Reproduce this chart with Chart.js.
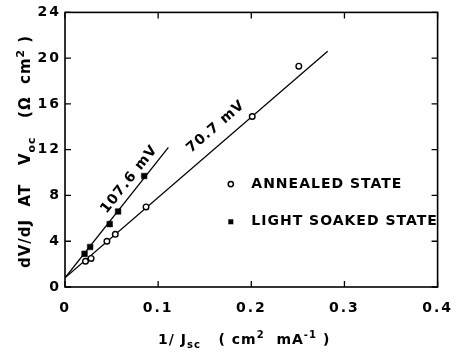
<!DOCTYPE html>
<html><head><meta charset="utf-8">
<script src="https://cdn.jsdelivr.net/npm/chart.js@4"></script>
<style>html,body{margin:0;padding:0;background:#fff}#w{width:463px;height:352px}</style>
</head><body><div id="w"><canvas id="c"></canvas></div>
<script>
const xTicks = [0, 0.1, 0.2, 0.3, 0.4];
const yTicks = [0, 4, 8, 12, 16, 20, 24];
const annealedX = [0.022, 0.028, 0.045, 0.054, 0.087, 0.201, 0.251];
const annealedY = [2.25, 2.5, 4.0, 4.6, 7.0, 14.9, 19.3];
const soakedX = [0.021, 0.027, 0.048, 0.057, 0.085];
const soakedY = [2.9, 3.5, 5.5, 6.6, 9.7];
const annealedFitX = [0, 0.282];
const annealedFitY = [0.8, 20.6];
const soakedFitX = [0, 0.111];
const soakedFitY = [0.8, 12.2];
const seriesNames = ['ANNEALED STATE', 'LIGHT SOAKED STATE'];
const slopeLabels = ['70.7 mV', '107.6 mV'];

const pts = (xs, ys) => xs.map((x, i) => ({x, y: ys[i]}));
const FONT = '"DejaVu Sans", sans-serif';

function rich(ctx, parts, x, y, size) {
  let cx = x;
  for (const p of parts) {
    let fs = size, dy = 0;
    if (p.s === 'sub') { fs = size * 0.72; dy = size * 0.3; }
    if (p.s === 'sup') { fs = size * 0.72; dy = -size * 0.42; }
    ctx.font = 'bold ' + fs + 'px ' + FONT;
    ctx.fillText(p.t, cx, y + dy);
    cx += ctx.measureText(p.t).width;
  }
}

const spacing = {
  id: 'spacing',
  beforeDraw(chart) { chart.ctx.letterSpacing = '2px'; }
};

const deco = {
  id: 'deco',
  afterDraw(chart) {
    const {ctx, chartArea: a, scales: {x, y}} = chart;
    ctx.save();
    ctx.letterSpacing = '0px';
    ctx.strokeStyle = '#000'; ctx.fillStyle = '#000';
    ctx.lineWidth = 1.6;
    ctx.strokeRect(a.left, a.top, a.right - a.left, a.bottom - a.top);
    ctx.lineWidth = 1.3;
    const L = 6;
    ctx.beginPath();
    xTicks.forEach(v => { const px = x.getPixelForValue(v);
      ctx.moveTo(px, a.bottom); ctx.lineTo(px, a.bottom - L);
      ctx.moveTo(px, a.top); ctx.lineTo(px, a.top + L); });
    yTicks.forEach(v => { const py = y.getPixelForValue(v);
      ctx.moveTo(a.left, py); ctx.lineTo(a.left + L, py);
      ctx.moveTo(a.right, py); ctx.lineTo(a.right - L, py); });
    ctx.stroke();

    // slope labels along lines
    ctx.letterSpacing = '1px';
    const lab = (fx, fy, tx, ty, text) => {
      const x0 = x.getPixelForValue(fx[0]), y0 = y.getPixelForValue(fy[0]);
      const x1 = x.getPixelForValue(fx[1]), y1 = y.getPixelForValue(fy[1]);
      const ang = Math.atan2(y1 - y0, x1 - x0);
      ctx.save();
      ctx.translate(x.getPixelForValue(tx), y.getPixelForValue(ty));
      ctx.rotate(ang);
      ctx.font = 'bold 14px ' + FONT;
      ctx.textAlign = 'center'; ctx.textBaseline = 'middle';
      ctx.fillText(text, 0, 0);
      ctx.restore();
    };
    lab(soakedFitX, soakedFitY, 0.069, 9.4, slopeLabels[1]);
    lab(annealedFitX, annealedFitY, 0.162, 14.0, slopeLabels[0]);

    // legend
    ctx.letterSpacing = '1px';
    ctx.font = 'bold 14px ' + FONT;
    ctx.textAlign = 'left'; ctx.textBaseline = 'middle';
    const lx = x.getPixelForValue(0.178), tx = x.getPixelForValue(0.2);
    const ly1 = y.getPixelForValue(9.0), ly2 = y.getPixelForValue(5.7);
    ctx.lineWidth = 1.5;
    ctx.beginPath(); ctx.arc(lx, ly1, 2.6, 0, Math.PI * 2); ctx.stroke();
    ctx.fillRect(lx - 2.5, ly2 - 2.5, 5, 5);
    ctx.fillText(seriesNames[0], tx, ly1);
    ctx.fillText(seriesNames[1], tx, ly2);

    // axis titles
    ctx.letterSpacing = '1px';
    ctx.textBaseline = 'alphabetic';
    rich(ctx, [{t: '1/ J'}, {t: 'sc', s: 'sub'}, {t: '   ( cm'}, {t: '2', s: 'sup'}, {t: '  mA'}, {t: '-1', s: 'sup'}, {t: ' )'}], 158, 344, 14);
    ctx.save();
    ctx.letterSpacing = '1px';
    ctx.translate(30, 268);
    ctx.rotate(-Math.PI / 2);
    rich(ctx, [{t: 'dV/dJ  AT   V'}, {t: 'oc', s: 'sub'}, {t: '   (Ω  cm'}, {t: '2', s: 'sup'}, {t: ' )'}], 0, 0, 15);
    ctx.restore();
    ctx.restore();
  }
};

new Chart(document.getElementById('c'), {
  type: 'scatter',
  data: {
    datasets: [
      {label: seriesNames[0], data: pts(annealedX, annealedY), pointStyle: 'circle', pointRadius: 2.8,
       borderColor: '#000', backgroundColor: '#fff', borderWidth: 1.4, showLine: false},
      {label: seriesNames[1], data: pts(soakedX, soakedY), pointStyle: 'rect', pointRadius: 4,
       borderColor: '#000', backgroundColor: '#000', borderWidth: 0.5, showLine: false},
      {label: 'fit1', data: pts(annealedFitX, annealedFitY), showLine: true, pointRadius: 0,
       borderColor: '#000', borderWidth: 1.3},
      {label: 'fit2', data: pts(soakedFitX, soakedFitY), showLine: true, pointRadius: 0,
       borderColor: '#000', borderWidth: 1.3}
    ]
  },
  options: {
    responsive: true, maintainAspectRatio: false, animation: false,
    layout: {padding: {left: 0, right: 22, top: 10, bottom: 0}},
    plugins: {legend: {display: false}, tooltip: {enabled: false}},
    scales: {
      x: {type: 'linear', min: 0, max: 0.4,
        afterBuildTicks: s => { s.ticks = xTicks.map(v => ({value: v})); },
        afterFit: s => { s.height = 65; },
        grid: {display: false, drawTicks: false}, border: {display: false},
        ticks: {padding: 13, color: '#000', font: {family: FONT, size: 14, weight: 'bold'},
          callback: v => v === 0 ? '0' : v.toFixed(1)}},
      y: {type: 'linear', min: 0, max: 24,
        afterBuildTicks: s => { s.ticks = yTicks.map(v => ({value: v})); },
        afterFit: s => { s.width = 65; },
        grid: {display: false, drawTicks: false}, border: {display: false},
        ticks: {padding: 4, color: '#000', font: {family: FONT, size: 14, weight: 'bold'},
          callback: v => String(v)}}
    }
  },
  plugins: [spacing, deco]
});
</script></body></html>
